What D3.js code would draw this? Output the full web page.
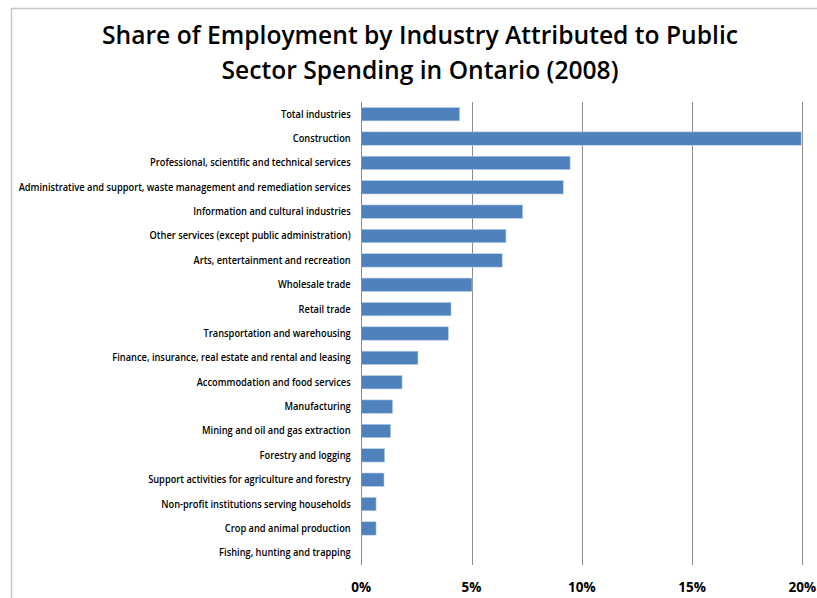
<!DOCTYPE html>
<html>
<head>
<meta charset="utf-8">
<script src="https://cdn.jsdelivr.net/npm/d3@7"></script>
<style>
  html, body { margin: 0; padding: 0; background: #fff; }
  svg { display: block; }
  text { font-family: "Open Sans", "Liberation Sans", sans-serif; fill: #000; }
</style>
</head>
<body>
<svg id="chart" width="817" height="598"></svg>
<script>
// Industries, top to bottom
const industries = [
  "Total industries",
  "Construction",
  "Professional, scientific and technical services",
  "Administrative and support, waste management and remediation services",
  "Information and cultural industries",
  "Other services (except public administration)",
  "Arts, entertainment and recreation",
  "Wholesale trade",
  "Retail trade",
  "Transportation and warehousing",
  "Finance, insurance, real estate and rental and leasing",
  "Accommodation and food services",
  "Manufacturing",
  "Mining and oil and gas extraction",
  "Forestry and logging",
  "Support activities for agriculture and forestry",
  "Non-profit institutions serving households",
  "Crop and animal production",
  "Fishing, hunting and trapping"
];

// Share of employment attributed to public sector spending (fraction)
const shares = [
  0.0446, 0.1995, 0.0947, 0.0916, 0.0732, 0.0656, 0.0639, 0.0502, 0.0407,
  0.0395, 0.0257, 0.0185, 0.0142, 0.0133, 0.0106, 0.0103, 0.0067, 0.0067, 0.0000
];

const xTicks = [0, 0.05, 0.10, 0.15, 0.20];
const titleLines = [
  "Share of Employment by Industry Attributed to Public",
  "Sector Spending in Ontario (2008)"
];

const svg = d3.select("#chart");
const plot = { left: 361.3, right: 802.3, top: 102, bottom: 565 };

// outer chart frame
svg.append("rect")
  .attr("x", 11.5).attr("y", 8.5)
  .attr("width", 820).attr("height", 600)
  .attr("fill", "none").attr("stroke", "#c8c8c8").attr("stroke-width", 1.5);

// title, condensed to a Calibri-like set width
const title = svg.append("g");
const tl = title.selectAll("text").data(titleLines).join("text")
  .attr("x", 420).attr("y", (d, i) => 44 + i * 35)
  .attr("text-anchor", "middle")
  .attr("font-size", 24.5).attr("font-weight", 600)
  .text(d => d);
{
  const w0 = tl.nodes()[0].getComputedTextLength();
  const k = 636 / w0;
  tl.each(function () {
    const w = this.getComputedTextLength();
    d3.select(this).attr("textLength", w * k).attr("lengthAdjust", "spacingAndGlyphs");
  });
}

const x = d3.scaleLinear().domain([0, 0.20]).range([plot.left, plot.right]);
const y = d3.scaleBand().domain(industries).range([plot.top, plot.bottom]).paddingInner(0.45).paddingOuter(0.225);

// vertical gridlines
svg.append("g").selectAll("line").data(xTicks.slice(1)).join("line")
  .attr("x1", d => Math.round(x(d)) + 0.5).attr("x2", d => Math.round(x(d)) + 0.5)
  .attr("y1", plot.top).attr("y2", plot.bottom)
  .attr("stroke", "#8c8c8c").attr("stroke-width", 1);

// bars
svg.append("g").selectAll("rect").data(industries).join("rect")
  .attr("x", x(0))
  .attr("y", d => y(d))
  .attr("width", (d, i) => x(shares[i]) - x(0))
  .attr("height", y.bandwidth())
  .attr("fill", "#4f81bd")
  .attr("stroke", "#bcd0e8").attr("stroke-width", 0.6);

// category axis line
svg.append("line")
  .attr("x1", Math.round(x(0)) + 0.5).attr("x2", Math.round(x(0)) + 0.5)
  .attr("y1", plot.top).attr("y2", plot.bottom)
  .attr("stroke", "#8c8c8c").attr("stroke-width", 1);

// category labels
const cl = svg.append("g").selectAll("text").data(industries).join("text")
  .attr("x", 350.7)
  .attr("y", d => y(d) + y.bandwidth() / 2)
  .attr("dy", "0.35em")
  .attr("text-anchor", "end")
  .attr("font-size", 9.8).attr("font-weight", 600)
  .attr("fill", "#1a1a1a")
  .text(d => d);
{
  const widths = cl.nodes().map(n => n.getComputedTextLength());
  const k = 332 / d3.max(widths);
  cl.each(function (d, i) {
    d3.select(this).attr("textLength", widths[i] * k).attr("lengthAdjust", "spacingAndGlyphs");
  });
}

// value axis tick labels
svg.append("g").selectAll("text").data(xTicks).join("text")
  .attr("x", d => x(d))
  .attr("y", 592)
  .attr("text-anchor", "middle")
  .attr("font-size", 13.5).attr("font-weight", 700)
  .text(d => d3.format(".0%")(d));
</script>
</body>
</html>
